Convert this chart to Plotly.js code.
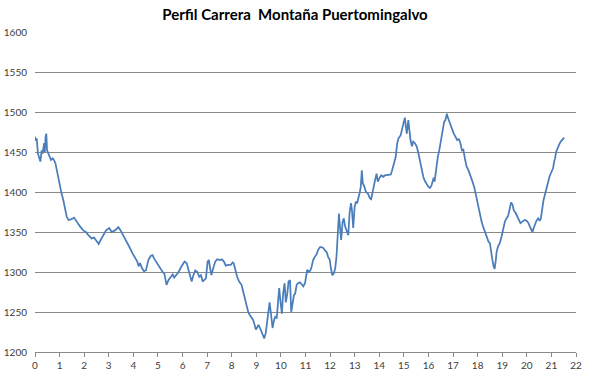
<!DOCTYPE html>
<html>
<head>
<meta charset="utf-8">
<script src="https://cdn.plot.ly/plotly-3.0.1.min.js"></script>
<style>
  html, body { margin: 0; padding: 0; background: #ffffff; }
  #chart { width: 590px; height: 374px; }
</style>
</head>
<body>
<div id="chart"></div>
<script>
// Distance along the course (km)
const distanceKm = [
  0, 0.04, 0.07, 0.12, 0.18, 0.22, 0.27, 0.31, 0.37, 0.4, 0.43, 0.46, 0.49, 0.54, 0.61, 0.65, 0.72, 0.77, 0.83, 0.88,
  0.95, 1.02, 1.08, 1.15, 1.22, 1.29, 1.36, 1.49, 1.59, 1.69, 1.83, 1.96, 2.07, 2.17, 2.3, 2.4, 2.51, 2.59, 2.67, 2.78,
  2.89, 3.02, 3.12, 3.25, 3.39, 3.48, 3.59, 3.73,
  3.86, 3.97, 4.07, 4.16, 4.21, 4.27, 4.35, 4.43, 4.51, 4.61, 4.7, 4.78, 4.84, 4.92, 5.01, 5.11, 5.19, 5.26, 5.35, 5.43,
  5.52, 5.6, 5.66, 5.76, 5.84, 5.92, 6.0, 6.08, 6.17, 6.23, 6.3, 6.37, 6.44, 6.52, 6.6, 6.68, 6.75, 6.82, 6.88, 6.95,
  7.02, 7.07, 7.12, 7.17, 7.25, 7.33, 7.41, 7.52, 7.6, 7.68, 7.76, 7.86,
  7.96, 8.04, 8.08, 8.12, 8.17, 8.22, 8.3, 8.4, 8.47, 8.54, 8.6, 8.67, 8.74, 8.82, 8.87, 8.93, 8.98, 9.04, 9.09, 9.15,
  9.22, 9.28, 9.32, 9.38, 9.43, 9.48, 9.54, 9.58, 9.62, 9.66, 9.72, 9.77, 9.83, 9.88, 9.93, 9.99, 10.04, 10.09, 10.15, 10.2,
  10.26, 10.31, 10.37, 10.42, 10.48, 10.53, 10.58, 10.64, 10.7, 10.77, 10.84, 10.91, 10.98, 11.02, 11.07, 11.13,
  11.2, 11.25, 11.31, 11.38, 11.45, 11.52, 11.59, 11.65, 11.72, 11.79, 11.86, 11.92, 11.99, 12.03, 12.09, 12.15, 12.21, 12.26,
  12.31, 12.36, 12.4, 12.45, 12.51, 12.56, 12.61, 12.67, 12.74, 12.79, 12.85, 12.89, 12.94, 13.0, 13.05, 13.1, 13.16, 13.21,
  13.25, 13.29, 13.33, 13.39, 13.46, 13.54, 13.62, 13.67, 13.73, 13.78, 13.83, 13.89, 13.94, 14.0, 14.08, 14.16, 14.24, 14.32,
  14.4, 14.47, 14.52,
  14.57, 14.62, 14.67, 14.73, 14.78, 14.87, 14.95, 15.0, 15.04, 15.08, 15.12, 15.18, 15.22, 15.27, 15.33, 15.38, 15.45, 15.52,
  15.58, 15.62, 15.68, 15.73, 15.79, 15.85, 15.92, 15.99, 16.06, 16.12, 16.17, 16.21, 16.25, 16.29, 16.33, 16.38, 16.44, 16.49,
  16.54, 16.6, 16.64, 16.69, 16.75, 16.79, 16.84, 16.91, 16.98, 17.03, 17.1, 17.17, 17.24, 17.3, 17.36, 17.42, 17.48, 17.55,
  17.63, 17.71, 17.79, 17.87, 17.93, 17.98, 18.04, 18.09, 18.16, 18.22, 18.28, 18.33, 18.39, 18.44,
  18.5, 18.54, 18.59, 18.65, 18.69, 18.74, 18.77, 18.83, 18.9, 18.97, 19.04, 19.11, 19.17, 19.24, 19.31, 19.36, 19.42, 19.47,
  19.54, 19.61, 19.67, 19.74, 19.82, 19.91, 19.99, 20.07, 20.12, 20.19, 20.23, 20.28, 20.34, 20.39, 20.46, 20.52, 20.57, 20.62,
  20.68, 20.73, 20.8, 20.87, 20.93, 21.0, 21.07, 21.11, 21.15, 21.19, 21.25, 21.31, 21.38, 21.45, 21.52
];

// Elevation (m)
const elevationM = [
  1469, 1464, 1467, 1448, 1442, 1438, 1452, 1448, 1461, 1450, 1469, 1473, 1452, 1448, 1444, 1440, 1442, 1440, 1436, 1428,
  1417, 1409, 1398, 1390, 1380, 1369, 1365, 1366, 1368, 1363, 1357, 1352, 1350, 1346, 1342, 1343, 1338, 1335, 1340, 1346,
  1352, 1355, 1350, 1352, 1356, 1352, 1346, 1338,
  1330, 1323, 1317, 1313, 1307, 1311, 1305, 1301, 1302, 1315, 1320, 1321, 1317, 1313, 1309, 1305, 1300, 1298, 1284, 1290,
  1294, 1297, 1293, 1297, 1300, 1305, 1310, 1313, 1311, 1305, 1296, 1288, 1296, 1302, 1300, 1294, 1296, 1288, 1290, 1292,
  1313, 1315, 1305, 1296, 1305, 1313, 1316, 1315, 1316, 1313, 1308, 1309,
  1309, 1312, 1311, 1305, 1300, 1294, 1288, 1284, 1275, 1267, 1257, 1250, 1246, 1243, 1240, 1234, 1228, 1231, 1234, 1230,
  1224, 1219, 1217, 1223, 1234, 1248, 1262, 1252, 1236, 1230, 1240, 1244, 1242, 1257, 1280, 1261, 1248, 1273, 1286, 1262,
  1273, 1288, 1290, 1250, 1261, 1271, 1273, 1284, 1286, 1287, 1285, 1282, 1286, 1294, 1303, 1300,
  1302, 1307, 1315, 1319, 1322, 1328, 1331, 1331, 1330, 1327, 1325, 1319, 1315, 1305, 1296, 1298, 1305, 1319,
  1344, 1373, 1357, 1340, 1363, 1367, 1357, 1352, 1346, 1373, 1386, 1377, 1355, 1382, 1388, 1386, 1392, 1400,
  1407, 1427, 1411, 1407, 1400, 1398, 1392, 1391, 1400, 1409, 1415, 1423, 1413, 1417, 1421, 1419, 1421, 1421,
  1422, 1422, 1427,
  1434, 1438, 1444, 1461, 1467, 1471, 1480, 1486, 1493, 1482, 1473, 1490, 1477, 1465, 1457, 1463, 1461, 1457,
  1450, 1444, 1434, 1425, 1419, 1414, 1410, 1407, 1405, 1408, 1413, 1418, 1413, 1423, 1434, 1444, 1452, 1461,
  1473, 1484, 1488, 1490, 1498, 1493, 1488, 1482, 1477, 1473, 1469, 1465, 1466, 1461, 1452, 1453, 1442, 1432,
  1427, 1421, 1413, 1405, 1396, 1388, 1380, 1371, 1363, 1357, 1352, 1348, 1342, 1338,
  1336, 1325, 1317, 1307, 1304, 1315, 1325, 1332, 1336, 1344, 1355, 1363, 1367, 1370, 1380, 1387, 1384, 1377,
  1374, 1369, 1364, 1361, 1363, 1365, 1364, 1361, 1357, 1352, 1350, 1355, 1360, 1364, 1367, 1364, 1367, 1380,
  1390, 1396, 1405, 1415, 1420, 1425, 1430, 1438, 1442, 1450, 1455, 1459, 1463, 1466, 1468
];

const xTicks = [0,1,2,3,4,5,6,7,8,9,10,11,12,13,14,15,16,17,18,19,20,21,22];
const yTicks = [1200,1250,1300,1350,1400,1450,1500,1550,1600];
const chartTitle = 'Perfil Carrera  Montaña Puertomingalvo';

const trace = {
  x: distanceKm,
  y: elevationM,
  type: 'scatter',
  mode: 'lines',
  line: { color: '#4a7ebb', width: 1.75 },
  hoverinfo: 'x+y'
};

const fontFam = 'Lato, "Open Sans", "DejaVu Sans", sans-serif';

const layout = {
  width: 590,
  height: 374,
  margin: { l: 35, r: 14, t: 32, b: 22 },
  paper_bgcolor: '#ffffff',
  plot_bgcolor: '#ffffff',
  showlegend: false,
  title: {
    text: '<b>' + chartTitle + '</b>',
    font: { family: fontFam, size: 15, color: '#000000' },
    x: 0.5, xref: 'container', xanchor: 'center',
    y: 1 - 15 / 374, yref: 'container', yanchor: 'middle'
  },
  xaxis: {
    range: [0, 22],
    tickmode: 'array',
    tickvals: xTicks,
    ticktext: xTicks.map(String),
    showgrid: false,
    zeroline: false,
    showline: true,
    linecolor: '#8a8a8a',
    linewidth: 1,
    ticks: 'outside',
    ticklen: 4,
    tickcolor: '#8a8a8a',
    tickfont: { family: fontFam, size: 10, color: '#404040' },
    fixedrange: true
  },
  yaxis: {
    range: [1200, 1600],
    tickmode: 'array',
    tickvals: yTicks,
    ticktext: yTicks.map(String),
    showgrid: true,
    gridcolor: '#8a8a8a',
    gridwidth: 1,
    zeroline: false,
    showline: false,
    ticks: '',
    ticklabelstandoff: 7,
    tickfont: { family: fontFam, size: 10, color: '#404040' },
    fixedrange: true
  }
};

Plotly.newPlot('chart', [trace], layout, { displayModeBar: false, staticPlot: true });
</script>
</body>
</html>
